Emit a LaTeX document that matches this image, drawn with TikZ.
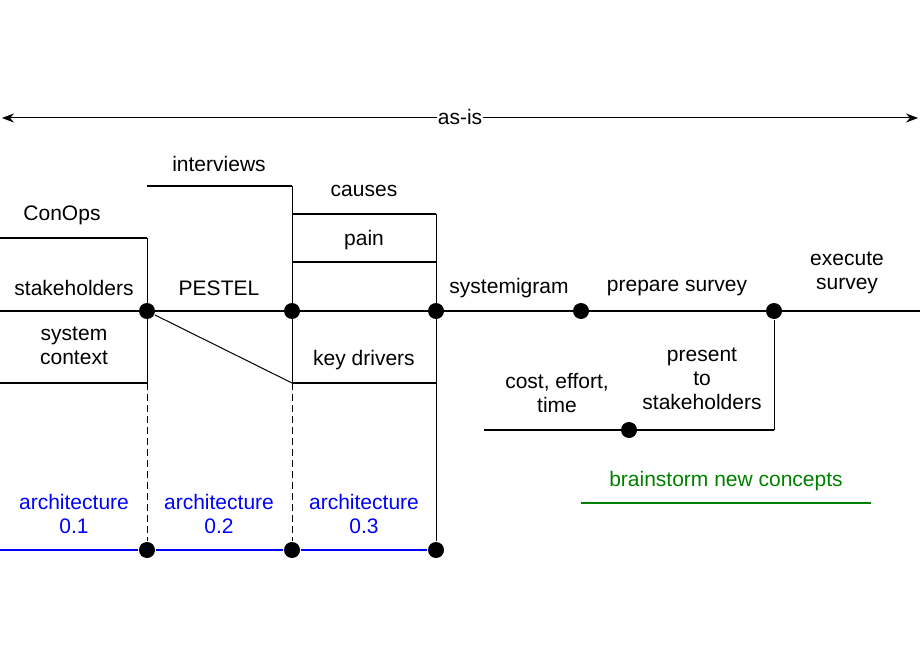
\documentclass[tikz,border=0pt]{standalone}
\usepackage{fontspec}
\setmainfont{Liberation Sans}
\usetikzlibrary{arrows.meta}
\begin{document}
\begin{tikzpicture}[x=1pt,y=-1pt,line width=2pt,
    dotStyle/.style={circle, fill=black, inner sep=0pt, minimum size=16pt},
    lblStyle/.style={font=\fontsize{21}{24}\selectfont, align=center},
    dashStyle/.style={line width=1pt, dash pattern=on 7pt off 4pt}]
  \useasboundingbox (0,0) rectangle (920,660);
  % main time line
  \coordinate (m0) at (0,311);
  \coordinate (m5) at (920,311);
  \node[dotStyle](d1) at (147,311) {};
  \node[dotStyle](d2) at (292,311) {};
  \node[dotStyle](d3) at (436,311) {};
  \node[dotStyle](d4) at (581,311) {};
  \node[dotStyle](d5) at (774,311) {};
  \draw (m0) -- (m5);
  % as-is
  \coordinate (a0) at (2,118);
  \coordinate (a1) at (918,118);
  \draw[line width=1pt, {Stealth[length=12pt]}-{Stealth[length=12pt]}] (a0) -- (a1);
  \node[lblStyle, fill=white, inner sep=1pt](asis) at (460,117) {as-is};
  % branches
  \coordinate (c0) at (0,238);   \coordinate (c1) at (147,238);
  \coordinate (s0) at (0,383);   \coordinate (s1) at (147,383);
  \coordinate (i0) at (147,186); \coordinate (i1) at (292,186);
  \coordinate (k0) at (292,383); \coordinate (k1) at (436,383);
  \coordinate (u0) at (292,214); \coordinate (u1) at (436,214);
  \coordinate (p0) at (292,262); \coordinate (p1) at (436,262);
  \draw (c0) -- (c1);
  \draw (s0) -- (s1);
  \draw[line width=1pt] (c1) -- (s1);
  \draw (i0) -- (i1);
  \draw[line width=1pt] (i1) -- (k0);
  \draw (k0) -- (k1);
  \draw (u0) -- (u1);
  \draw (p0) -- (p1);
  \draw[line width=1pt] (d1) -- (k0);
  % survey branch
  \coordinate (e0) at (484,430); \coordinate (e1) at (774,430);
  \node[dotStyle](d6) at (629,430) {};
  \draw (e0) -- (e1);
  \draw[line width=1pt] (e1) -- (d5);
  % architecture
  \node[dotStyle](b1) at (147,550) {};
  \node[dotStyle](b2) at (292,550) {};
  \node[dotStyle](b3) at (436,550) {};
  \coordinate (b0) at (0,550);
  \draw[blue] (b0) -- (b1) -- (b2) -- (b3);
  \draw[dashStyle] (s1) -- (b1);
  \draw[dashStyle] (k0) -- (b2);
  \draw[line width=1pt] (u1) -- (b3);
  % brainstorm
  \coordinate (g0) at (581,503); \coordinate (g1) at (871,503);
  \draw[green!50!black] (g0) -- (g1);
  % labels
  \node[lblStyle](conops) at (62,215) {ConOps};
  \node[lblStyle](stake) at (74,288) {stakeholders};
  \node[lblStyle](pestel) at (219,288) {PESTEL};
  \node[lblStyle](sysctx) at (74,346) {system\\context};
  \node[lblStyle](interv) at (219,164) {interviews};
  \node[lblStyle](causes) at (364,191) {causes};
  \node[lblStyle](pain) at (364,240) {pain};
  \node[lblStyle](keydr) at (364,360) {key drivers};
  \node[lblStyle](sysgram) at (509,288) {systemigram};
  \node[lblStyle](prep) at (677,288) {prepare survey};
  \node[lblStyle](exec) at (847,273) {execute\\survey};
  \node[lblStyle](present) at (702,379) {present\\to\\stakeholders};
  \node[lblStyle](cost) at (557,393) {cost, effort,\\time};
  \node[lblStyle, blue](arch1) at (74,514) {architecture\\0.1};
  \node[lblStyle, blue](arch2) at (219,514) {architecture\\0.2};
  \node[lblStyle, blue](arch3) at (364,514) {architecture\\0.3};
  \node[lblStyle, green!50!black](brain) at (726,481) {brainstorm new concepts};
\end{tikzpicture}
\end{document}
